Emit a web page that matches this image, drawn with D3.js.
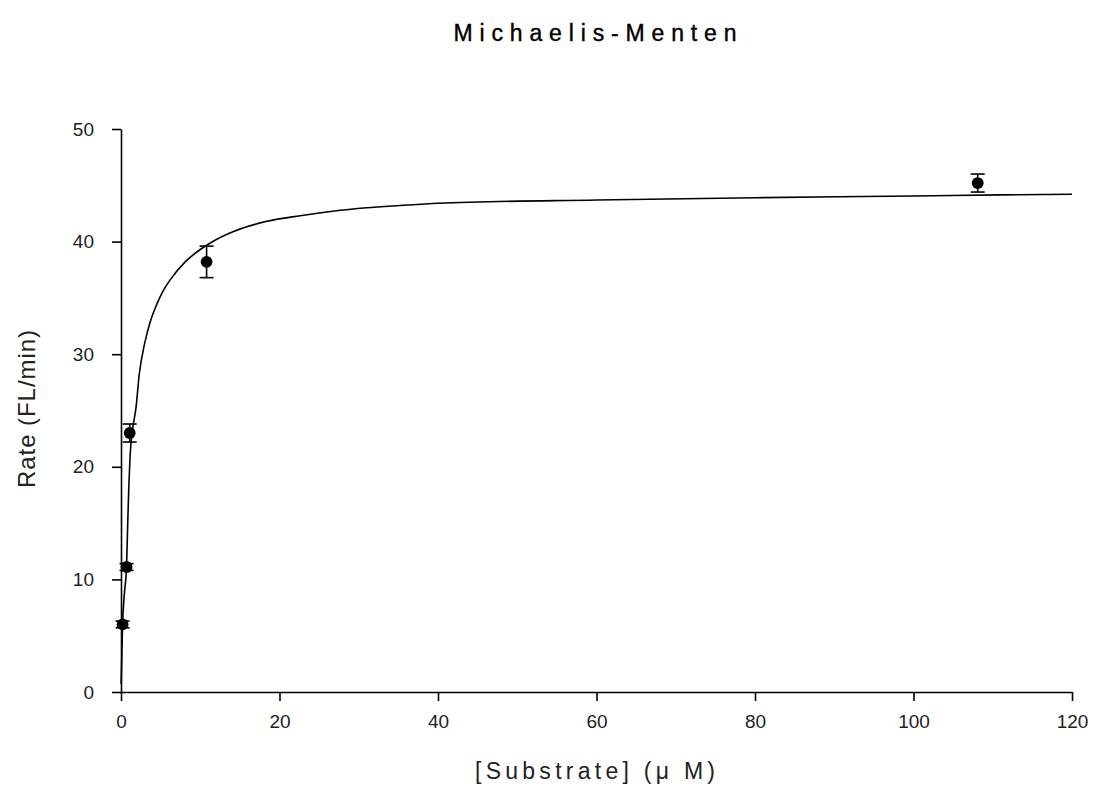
<!DOCTYPE html>
<html>
<head>
<meta charset="utf-8">
<script src="https://cdn.jsdelivr.net/npm/d3@7"></script>
<style>
  html, body { margin: 0; padding: 0; background: #ffffff; }
  svg { display: block; }
  .tick text { font-family: "Liberation Sans", Arial, sans-serif; font-size: 19px; fill: #222; }
</style>
</head>
<body>
<div id="chart"></div>
<script>
// measured points (substrate, rate, error)
const substrate = [0.2, 0.7, 1.1, 10.8, 108.1];
const rate = [6.0, 11.1, 23.0, 38.2, 45.2];
const rateErr = [0.3, 0.3, 0.8, 1.4, 0.8];

// fitted curve
const curveS = [0.02, 0.1, 0.2, 0.4, 0.7, 0.85, 1.0, 1.15, 1.4, 1.9, 2.3, 3.0, 3.7, 4.5, 5.3, 6.2, 8.1, 10, 11.8, 14.2, 18.4, 22.6, 26.7, 31, 35.2, 40, 60, 80, 100, 111, 120];
const curveV = [0.7, 3.2, 6.0, 8.5, 11.2, 15, 18.5, 21, 23, 25.3, 28.2, 31.0, 32.9, 34.4, 35.6, 36.6, 38.2, 39.3, 40.1, 40.9, 41.8, 42.3, 42.7, 43.0, 43.2, 43.4, 43.7, 43.9, 44.05, 44.15, 44.2];

const xTicks = [0, 20, 40, 60, 80, 100, 120];
const yTicks = [0, 10, 20, 30, 40, 50];

const width = 1095;
const height = 789;
const margin = {left: 121, right: 23, top: 129, bottom: 97};

const svg = d3.select('#chart')
    .append('svg')
    .attr('width', width)
    .attr('height', height);

const x = d3.scaleLinear().domain([0, 120]).range([margin.left, width - margin.right]);
const y = d3.scaleLinear().domain([0, 50]).range([height - margin.bottom, margin.top]);

// axes
const xAxis = svg.append('g')
    .attr('transform', `translate(0,${y(0)})`)
    .call(d3.axisBottom(x).tickValues(xTicks).tickSize(9).tickSizeOuter(0).tickPadding(14));
const yAxis = svg.append('g')
    .attr('transform', `translate(${x(0)},0)`)
    .call(d3.axisLeft(y).tickValues(yTicks).tickSize(9).tickSizeOuter(0).tickPadding(18));

[xAxis, yAxis].forEach(g => {
    g.select('.domain').attr('stroke', '#000').attr('stroke-width', 1.6);
    g.selectAll('.tick line').attr('stroke', '#000').attr('stroke-width', 1.6);
    g.selectAll('.tick text').attr('font-family', null).attr('font-size', null);
});

// fitted curve
const line = d3.line()
    .x((d, i) => x(curveS[i]))
    .y((d, i) => y(curveV[i]))
    .curve(d3.curveMonotoneX);

svg.append('path')
    .attr('d', line(curveS))
    .attr('fill', 'none')
    .attr('stroke', '#000')
    .attr('stroke-width', 1.6);

// error bars
const capW = 7;
const bars = svg.append('g').attr('stroke', '#000').attr('stroke-width', 1.6);
substrate.forEach((s, i) => {
    const cx = x(s);
    const top = y(rate[i] + rateErr[i]);
    const bot = y(rate[i] - rateErr[i]);
    bars.append('line').attr('x1', cx).attr('x2', cx).attr('y1', top).attr('y2', bot);
    bars.append('line').attr('x1', cx - capW).attr('x2', cx + capW).attr('y1', top).attr('y2', top);
    bars.append('line').attr('x1', cx - capW).attr('x2', cx + capW).attr('y1', bot).attr('y2', bot);
});

// points
svg.append('g')
    .selectAll('path')
    .data(substrate)
    .enter()
    .append('path')
    .attr('d', d3.symbol().type(d3.symbolCircle).size(110))
    .attr('transform', (d, i) => `translate(${x(d)},${y(rate[i])})`)
    .attr('fill', '#000');

// title and axis labels
svg.append('text')
    .attr('x', 595)
    .attr('y', 41)
    .attr('text-anchor', 'middle')
    .attr('font-family', '"Liberation Sans", Arial, sans-serif')
    .attr('font-size', 23)
    .attr('textLength', 283)
    .attr('lengthAdjust', 'spacing')
    .attr('fill', '#000')
    .attr('stroke', '#000')
    .attr('stroke-width', 0.4)
    .text('Michaelis-Menten');

svg.append('text')
    .attr('x', 595)
    .attr('y', 779)
    .attr('text-anchor', 'middle')
    .attr('font-family', '"Liberation Sans", Arial, sans-serif')
    .attr('font-size', 23)
    .attr('textLength', 240)
    .attr('lengthAdjust', 'spacing')
    .attr('fill', '#222')
    .text('[Substrate] (μ M)');

svg.append('text')
    .attr('transform', 'translate(35,409) rotate(-90)')
    .attr('text-anchor', 'middle')
    .attr('font-family', '"Liberation Sans", Arial, sans-serif')
    .attr('font-size', 24)
    .attr('textLength', 158)
    .attr('lengthAdjust', 'spacing')
    .attr('fill', '#222')
    .text('Rate (FL/min)');
</script>
</body>
</html>
